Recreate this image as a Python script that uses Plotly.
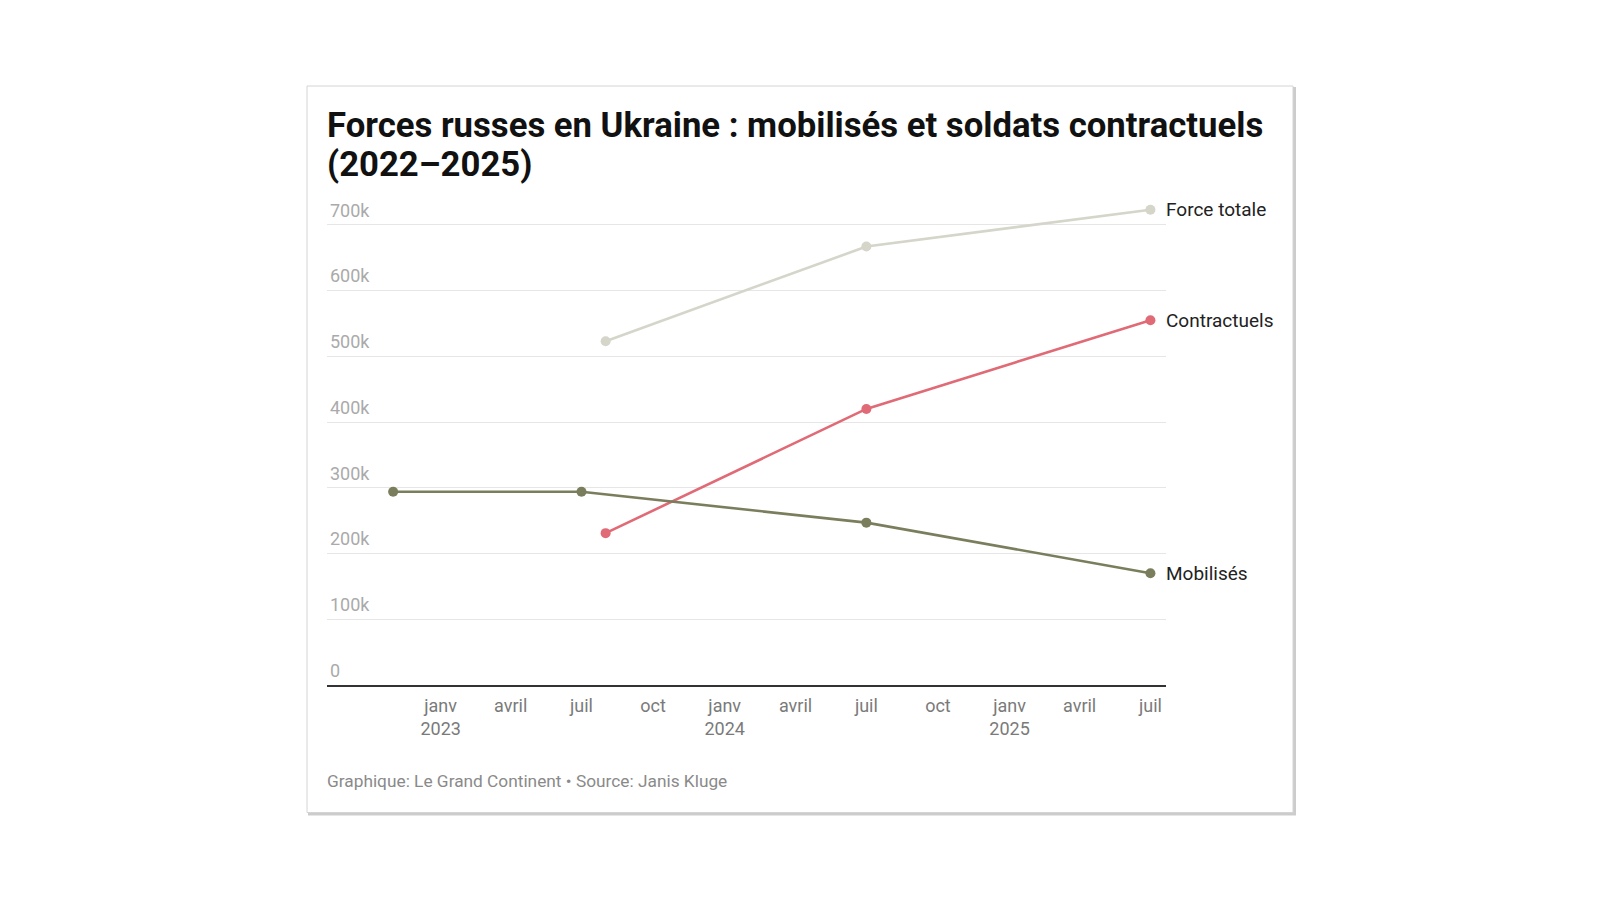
import plotly.graph_objects as go

# ---- data ----
mob_dates = ["2022-11-01", "2023-07-01", "2024-07-01", "2025-07-01"]
mob_values = [294000, 294000, 247000, 170000]

con_dates = ["2023-08-01", "2024-07-01", "2025-07-01"]
con_values = [231000, 420000, 555000]

tot_dates = ["2023-08-01", "2024-07-01", "2025-07-01"]
tot_values = [523000, 667000, 723000]

series_names = ["Mobilisés", "Contractuels", "Force totale"]

x_tickvals = ["2023-01-01", "2023-04-01", "2023-07-01", "2023-10-01",
              "2024-01-01", "2024-04-01", "2024-07-01", "2024-10-01",
              "2025-01-01", "2025-04-01", "2025-07-01"]
x_ticktext = ["janv<br>2023", "avril", "juil", "oct",
              "janv<br>2024", "avril", "juil", "oct",
              "janv<br>2025", "avril", "juil"]

y_tickvals = [0, 100000, 200000, 300000, 400000, 500000, 600000, 700000]
y_ticktext = ["0", "100k", "200k", "300k", "400k", "500k", "600k", "700k"]

title_lines = ["Forces russes en Ukraine : mobilisés et soldats contractuels",
               "(2022–2025)"]
footer_text = "Graphique: Le Grand Continent • Source: Janis Kluge"

# ---- styles ----
FONT = "Roboto"
colors = {"Mobilisés": "#7b7e5c", "Contractuels": "#e06a75", "Force totale": "#d5d5ca"}

OFF = 8  # default page body margin
W, H = 1600, 898
L, R, T, B = 319, 442, 184, 221
pw, ph = W - L - R, H - T - B

def px_x(px):  # page pixel -> paper
    return (px - OFF - L) / pw

def px_y(py):
    return (H - B - (py - OFF)) / ph

fig = go.Figure()

series = [
    ("Force totale", tot_dates, tot_values),
    ("Contractuels", con_dates, con_values),
    ("Mobilisés", mob_dates, mob_values),
]
for name, xs, ys in series:
    fig.add_trace(go.Scatter(
        x=xs, y=ys, mode="lines+markers", name=name,
        line=dict(color=colors[name], width=2.6),
        marker=dict(color=colors[name], size=10),
        cliponaxis=False, showlegend=False,
    ))
    fig.add_annotation(
        x=xs[-1], y=ys[-1], xref="x", yref="y", text=name,
        showarrow=False, xanchor="left", yanchor="middle", xshift=14,
        font=dict(family=FONT, size=19, color="#222222"),
    )

# card with shadow
fig.add_shape(type="rect", xref="paper", yref="paper",
              x0=px_x(308), x1=px_x(1296), y0=px_y(815.5), y1=px_y(87),
              line=dict(width=0), fillcolor="rgba(0,0,0,0.2)", layer="below")
fig.add_shape(type="rect", xref="paper", yref="paper",
              x0=px_x(307), x1=px_x(1293), y0=px_y(812.5), y1=px_y(86),
              line=dict(width=1, color="#d4d4d4"), fillcolor="white", layer="below")

# title (two lines for tighter leading)
for line, cy in zip(title_lines, [125, 163.5]):
    fig.add_annotation(
        x=0, y=px_y(cy), xref="paper", yref="paper", text="<b>%s</b>" % line,
        showarrow=False, xanchor="left", yanchor="middle", xshift=-2,
        font=dict(family=FONT, size=34.7, color="#111111"),
    )

fig.add_annotation(
    x=0, y=px_y(781), xref="paper", yref="paper", text=footer_text,
    showarrow=False, xanchor="left", yanchor="middle", xshift=-2,
    font=dict(family=FONT, size=17.3, color="#8a8a8a"),
)

fig.update_layout(
    width=W, height=H,
    margin=dict(l=L, r=R, t=T, b=B),
    paper_bgcolor="white", plot_bgcolor="rgba(0,0,0,0)",
    font=dict(family=FONT),
    xaxis=dict(
        type="date", range=["2022-08-08", "2025-07-21"],
        tickmode="array", tickvals=x_tickvals, ticktext=x_ticktext,
        showgrid=False, showline=True, linecolor="#333333", linewidth=2,
        ticks="", zeroline=False, ticklabelstandoff=3,
        tickfont=dict(family=FONT, size=18, color="#7a7a7a"),
    ),
    yaxis=dict(
        range=[0, 750000], tickmode="array",
        tickvals=y_tickvals, ticktext=y_ticktext,
        showgrid=True, gridcolor="#e6e6e6", gridwidth=1,
        zeroline=False, showline=False, ticks="",
        ticklabelposition="inside top", ticklabelshift=-2,
        tickfont=dict(family=FONT, size=18, color="#aaaaaa"),
    ),
)

fig.write_html("out.html")
